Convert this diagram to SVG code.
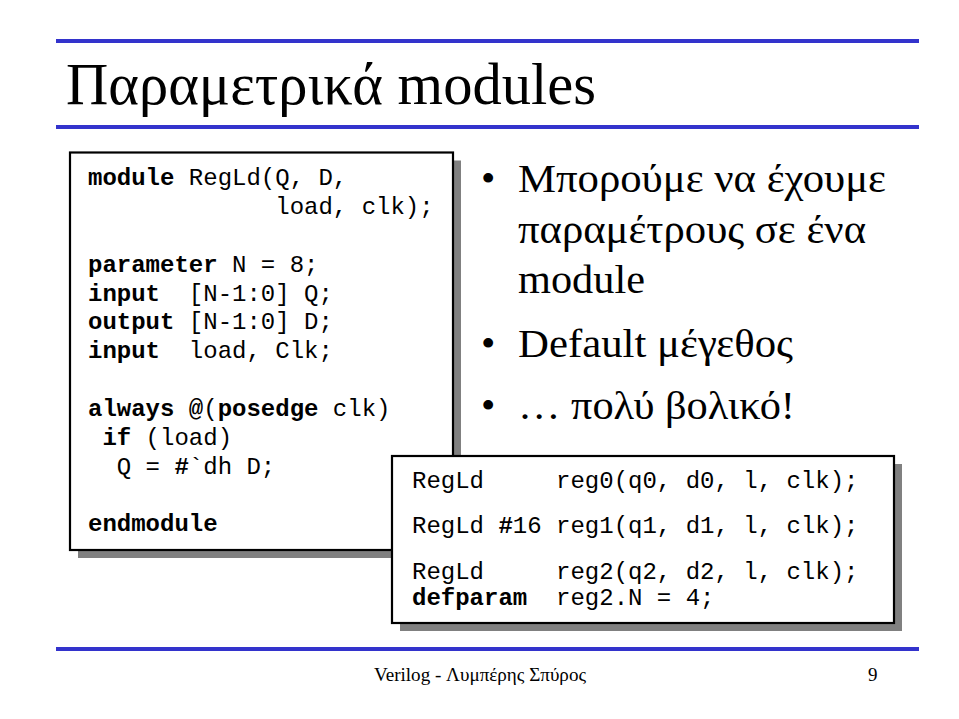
<svg xmlns="http://www.w3.org/2000/svg" width="959" height="719" viewBox="0 0 959 719">
<style>
.rule{fill:#3333cc}
.title{font-family:"Liberation Serif","Times New Roman",serif;font-size:59px;fill:#000}
.bul{font-family:"Liberation Serif","Times New Roman",serif;font-size:41px;fill:#000}
.foot{font-family:"Liberation Serif","Times New Roman",serif;font-size:19px;fill:#000}
.code{font-family:"Liberation Mono","Courier New",monospace;font-size:24px;fill:#000;white-space:pre}
.b{font-weight:bold}
.box{fill:#fff;stroke:#000;stroke-width:2.2}
.shadow{fill:#808080}
</style>
<rect width="959" height="719" fill="#fff"/>
<g id="header">
<rect class="rule" x="56" y="39" width="863" height="4"/>
<text class="title" x="66" y="104" textLength="530" lengthAdjust="spacingAndGlyphs">Παραμετρικά modules</text>
<rect class="rule" x="56" y="125" width="863" height="4"/>
</g>
<g id="module-code">
<rect class="shadow" x="78" y="160.5" width="383" height="397.5"/>
<rect class="box" x="70" y="152.5" width="383" height="397.5"/>
<text class="code" x="88" y="185" xml:space="preserve"><tspan class="b">module</tspan> RegLd(Q, D,</text>
<text class="code" x="88" y="214" xml:space="preserve">             load, clk);</text>
<text class="code" x="88" y="272" xml:space="preserve"><tspan class="b">parameter</tspan> N = 8;</text>
<text class="code" x="88" y="301" xml:space="preserve"><tspan class="b">input</tspan>  [N-1:0] Q;</text>
<text class="code" x="88" y="329" xml:space="preserve"><tspan class="b">output</tspan> [N-1:0] D;</text>
<text class="code" x="88" y="358" xml:space="preserve"><tspan class="b">input</tspan>  load, Clk;</text>
<text class="code" x="88" y="416" xml:space="preserve"><tspan class="b">always @</tspan>(<tspan class="b">posedge</tspan> clk)</text>
<text class="code" x="88" y="445" xml:space="preserve"> <tspan class="b">if</tspan> (load)</text>
<text class="code" x="88" y="474" xml:space="preserve">  Q = <tspan class="b">#</tspan>`dh D;</text>
<text class="code" x="88" y="531" xml:space="preserve"><tspan class="b">endmodule</tspan></text>
</g>
<g id="bullets">
<text class="bul" x="481" y="192">•</text>
<text class="bul" x="518" y="192" textLength="368" lengthAdjust="spacingAndGlyphs">Μπορούμε να έχουμε</text>
<text class="bul" x="518" y="243" textLength="348" lengthAdjust="spacingAndGlyphs">παραμέτρους σε ένα</text>
<text class="bul" x="518" y="293" textLength="127" lengthAdjust="spacingAndGlyphs">module</text>
<text class="bul" x="481" y="357">•</text>
<text class="bul" x="518" y="357" textLength="275" lengthAdjust="spacingAndGlyphs">Default μέγεθος</text>
<text class="bul" x="481" y="419">•</text>
<text class="bul" x="518" y="419" textLength="277" lengthAdjust="spacingAndGlyphs">… πολύ βολικό!</text>
</g>
<g id="instances-code">
<rect class="shadow" x="400" y="464" width="502" height="167"/>
<rect class="box" x="392" y="456" width="502" height="167"/>
<text class="code" x="412" y="488" xml:space="preserve">RegLd     reg0(q0, d0, l, clk);</text>
<text class="code" x="412" y="533" xml:space="preserve">RegLd <tspan class="b">#</tspan>16 reg1(q1, d1, l, clk);</text>
<text class="code" x="412" y="579" xml:space="preserve">RegLd     reg2(q2, d2, l, clk);</text>
<text class="code" x="412" y="605" xml:space="preserve"><tspan class="b">defparam</tspan>  reg2.N = 4;</text>
</g>
<g id="footer">
<rect class="rule" x="56" y="647" width="863" height="4"/>
<text class="foot" x="374" y="681" textLength="212" lengthAdjust="spacingAndGlyphs">Verilog - Λυμπέρης Σπύρος</text>
<text class="foot" x="868" y="681">9</text>
</g>
</svg>
